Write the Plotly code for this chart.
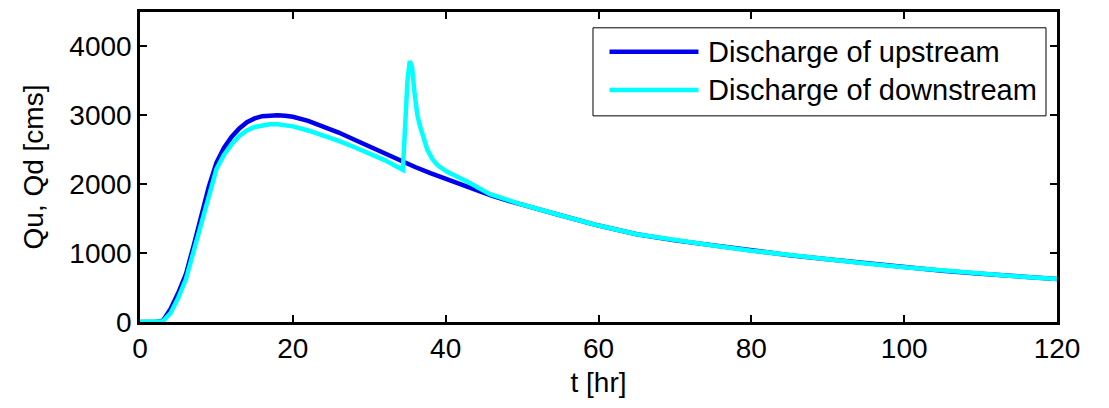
import plotly.graph_objects as go

# Time (hr) and discharge (cms)
t_up = [0, 1, 2, 3, 4, 5, 6, 7, 8, 9, 10, 11, 12, 13, 14, 15, 16, 17, 18, 19, 20,
        22, 24, 26, 28, 30, 32, 34, 36, 38, 40, 42, 44, 46, 48, 50, 55, 60, 65, 70,
        75, 80, 85, 90, 95, 100, 105, 110, 115, 120]
q_up = [0, 0, 0, 20, 190, 420, 690, 1100, 1530, 1960, 2310, 2530, 2690, 2810, 2900,
        2955, 2988, 3000, 3000, 2995, 2980, 2920, 2840, 2750, 2650, 2550, 2450, 2340,
        2250, 2160, 2075, 1995, 1915, 1835, 1765, 1700, 1550, 1400, 1275, 1185, 1110,
        1035, 970, 910, 850, 795, 745, 700, 660, 625]

t_down = [0, 1, 2, 3, 4, 5, 6, 7, 8, 9, 10, 11, 12, 13, 14, 15, 16, 17, 18, 19, 20,
          22, 24, 26, 28, 30, 32, 34.4, 35.0, 35.3, 35.6, 35.9, 36.3, 36.7, 37.1, 37.6,
          38.3, 39.0, 40.2, 42.8, 45.8, 48, 50, 55, 60, 65, 70, 75, 80, 85, 90, 95,
          100, 105, 110, 115, 120]
q_down = [0, 0, 0, 10, 130, 350, 620, 1020, 1450, 1870, 2220, 2430, 2580, 2700, 2780,
          2830, 2858, 2870, 2870, 2860, 2840, 2780, 2710, 2630, 2540, 2450, 2350, 2210,
          3500, 3790, 3700, 3350, 3000, 2820, 2660, 2500, 2360, 2270, 2180, 2040, 1855,
          1770, 1705, 1550, 1400, 1275, 1185, 1110, 1035, 970, 910, 850, 795, 745, 700,
          660, 625]

series_names = ["Discharge of upstream", "Discharge of downstream"]
series_colors = ["#0000EE", "#00FFFF"]

x_ticks = [0, 20, 40, 60, 80, 100, 120]
y_ticks = [0, 1000, 2000, 3000, 4000]

FONT = "Liberation Sans, Arial, sans-serif"

fig = go.Figure()
fig.add_trace(go.Scatter(x=t_up, y=q_up, mode="lines", name=series_names[0],
                         line=dict(color=series_colors[0], width=4.5), showlegend=False))
fig.add_trace(go.Scatter(x=t_down, y=q_down, mode="lines", name=series_names[1],
                         line=dict(color=series_colors[1], width=4.5), showlegend=False))

axis_common = dict(showgrid=False, zeroline=False, showline=True, linecolor="black",
                   linewidth=2.5, mirror="allticks", ticks="inside", ticklen=7,
                   tickwidth=2, tickcolor="black",
                   tickfont=dict(family=FONT, size=28, color="black"))

fig.update_xaxes(range=[0, 120], tickvals=x_ticks, ticktext=[str(v) for v in x_ticks],
                 title=dict(text="t [hr]", font=dict(family=FONT, size=28, color="black"),
                            standoff=10),
                 **axis_common)
fig.update_yaxes(range=[0, 4500], tickvals=y_ticks, ticktext=[str(v) for v in y_ticks],
                 title=dict(text="Qu, Qd [cms]", font=dict(family=FONT, size=28, color="black"),
                            standoff=18),
                 **axis_common)

# Legend box drawn in paper coordinates (MATLAB-style long line samples)
shapes = [dict(type="rect", xref="paper", yref="paper", x0=0.494, x1=0.988,
               y0=0.665, y1=0.949, line=dict(color="black", width=1),
               fillcolor="white", layer="above")]
annotations = []
row_y = [0.872, 0.748]
for name, color, yy in zip(series_names, series_colors, row_y):
    shapes.append(dict(type="line", xref="paper", yref="paper", x0=0.512, x1=0.609,
                       y0=yy, y1=yy, line=dict(color=color, width=4.5), layer="above"))
    annotations.append(dict(xref="paper", yref="paper", x=0.617, y=yy, text=name,
                            showarrow=False, xanchor="left", yanchor="middle",
                            font=dict(family=FONT, size=29, color="black")))

fig.update_layout(
    width=1101, height=400,
    margin=dict(l=132, r=52, t=1, b=86),
    paper_bgcolor="white", plot_bgcolor="white",
    font=dict(family=FONT, size=28, color="black"),
    showlegend=False,
    shapes=shapes,
    annotations=annotations,
)

fig.write_html("out.html")
